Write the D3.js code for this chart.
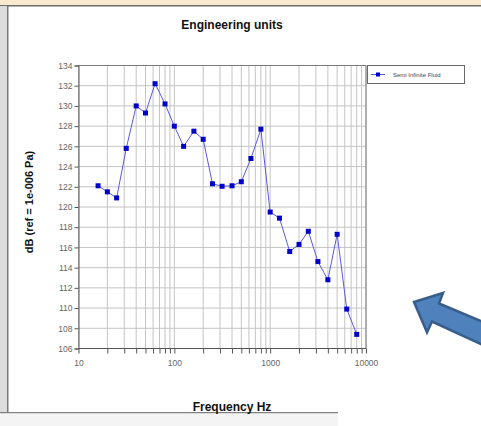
<!DOCTYPE html>
<html><head><meta charset="utf-8">
<script src="https://cdn.jsdelivr.net/npm/d3@7"></script>
<style>body{margin:0;background:#fff;}svg{display:block;font-family:"Liberation Sans",Arial,sans-serif;}</style>
</head><body>
<svg id="c" width="481" height="426"></svg>
<script>
const freqs = [16,20,25,31.5,40,50,63,80,100,125,160,200,250,315,400,500,630,800,1000,1250,1600,2000,2500,3150,4000,5000,6300,8000];
const levels = [122.1,121.5,120.9,125.8,130.0,129.3,132.2,130.2,128.0,126.0,127.5,126.7,122.3,122.05,122.1,122.5,124.8,127.7,119.5,118.9,115.6,116.3,117.6,114.6,112.8,117.3,109.9,107.4];
const yTicks = [106,108,110,112,114,116,118,120,122,124,126,128,130,132,134];
const xTicks = [10,100,1000,10000];
const seriesName = "Semi Infinite Fluid";
const title = "Engineering units";
const xLabel = "Frequency Hz";
const yLabel = "dB (ref = 1e-006 Pa)";

const svg = d3.select("#c");
// window frame
svg.append("rect").attr("x",0).attr("y",0).attr("width",481).attr("height",6).attr("fill","#f8e9cf");
svg.append("rect").attr("x",0).attr("y",5).attr("width",481).attr("height",1.5).attr("fill","#6d6d6d");
svg.append("rect").attr("x",0).attr("y",6).attr("width",7).attr("height",407).attr("fill","#dcdcdc");
svg.append("rect").attr("x",7).attr("y",6).attr("width",1.5).attr("height",407).attr("fill","#7a7a7a");
svg.append("rect").attr("x",0).attr("y",412).attr("width",338).attr("height",1.5).attr("fill","#808080");
svg.append("rect").attr("x",0).attr("y",413.5).attr("width",338).attr("height",12.5).attr("fill","#f4f4f4");

const L=78.5, R=366, T=65.5, B=348.5;
const x = d3.scaleLog().domain([10,10000]).range([L,R]);
const y = d3.scaleLinear().domain([106,134]).range([B,T]);

// grid
const minor = [];
for (let d=10; d<10000; d*=10) for (let k=1;k<10;k++) minor.push(d*k);
minor.push(10000);
svg.append("g").selectAll("line").data(minor).join("line")
  .attr("x1",d=>x(d)).attr("x2",d=>x(d)).attr("y1",T).attr("y2",B)
  .attr("stroke","#c4c4c4").attr("stroke-width",1);
svg.append("g").selectAll("line").data(yTicks).join("line")
  .attr("x1",L).attr("x2",R).attr("y1",d=>y(d)).attr("y2",d=>y(d))
  .attr("stroke","#c4c4c4").attr("stroke-width",1);
// border top/right
svg.append("path").attr("d",`M${L},${T}H${R}V${B}`).attr("fill","none").attr("stroke","#7a7a7a").attr("stroke-width",1);

// axes
const yAxis = d3.axisLeft(y).tickValues(yTicks).tickSize(4).tickPadding(2);
const gy = svg.append("g").attr("transform",`translate(${L},0)`).call(yAxis);
gy.selectAll("text").attr("fill","#666").attr("font-size",8.5);
gy.selectAll("line,path").attr("stroke","#555");

const xAxis = d3.axisBottom(x).tickValues(minor).tickSize(5).tickFormat(d=>xTicks.includes(d)?d:"").tickPadding(6);
const gx = svg.append("g").attr("transform",`translate(0,${B})`).call(xAxis);
gx.selectAll("text").attr("fill","#666").attr("font-size",8.5);
gx.selectAll("line,path").attr("stroke","#555");
gx.select(".domain").attr("d",`M${L},0H${R}`);

// series
const pts = freqs.map((f,i)=>[f,levels[i]]);
svg.append("path").datum(pts).attr("fill","none").attr("stroke","#5a5ae0").attr("stroke-width",1)
  .attr("d",d3.line().x(d=>x(d[0])).y(d=>y(d[1])));
svg.append("g").selectAll("rect").data(pts).join("rect")
  .attr("x",d=>x(d[0])-2.5).attr("y",d=>y(d[1])-2.5).attr("width",5).attr("height",5).attr("fill","#0000c8");

// title and labels
svg.append("text").attr("x",232).attr("y",29).attr("text-anchor","middle").attr("font-weight","bold").attr("font-size",12).attr("fill","#111").text(title);
svg.append("text").attr("x",232).attr("y",411).attr("text-anchor","middle").attr("font-weight","bold").attr("font-size",12).attr("fill","#111").text(xLabel);
svg.append("text").attr("transform","translate(33,202) rotate(-90)").attr("text-anchor","middle").attr("font-weight","bold").attr("font-size",11).attr("fill","#111").text(yLabel);

// legend
const lg = svg.append("g");
lg.append("rect").attr("x",367.5).attr("y",65.5).attr("width",97).attr("height",18).attr("fill","#fff").attr("stroke","#6a6a6a");
lg.append("line").attr("x1",371).attr("x2",385).attr("y1",74.5).attr("y2",74.5).attr("stroke","#5a5ae0");
lg.append("rect").attr("x",376).attr("y",72.5).attr("width",4).attr("height",4).attr("fill","#0000c8");
lg.append("text").attr("x",393).attr("y",77).attr("font-size",6).attr("fill","#444").text(seriesName);

// annotation arrow
const arrow = [[414,302],[443,293],[439,303.5],[490,325],[483,345],[432,321.5],[427,332.5]];
svg.append("path").attr("d","M"+arrow.map(p=>p.join(",")).join("L")+"Z")
  .attr("fill","#4f81bd").attr("stroke","#385d8a").attr("stroke-width",2.5).attr("stroke-linejoin","miter");
</script>
</body></html>
